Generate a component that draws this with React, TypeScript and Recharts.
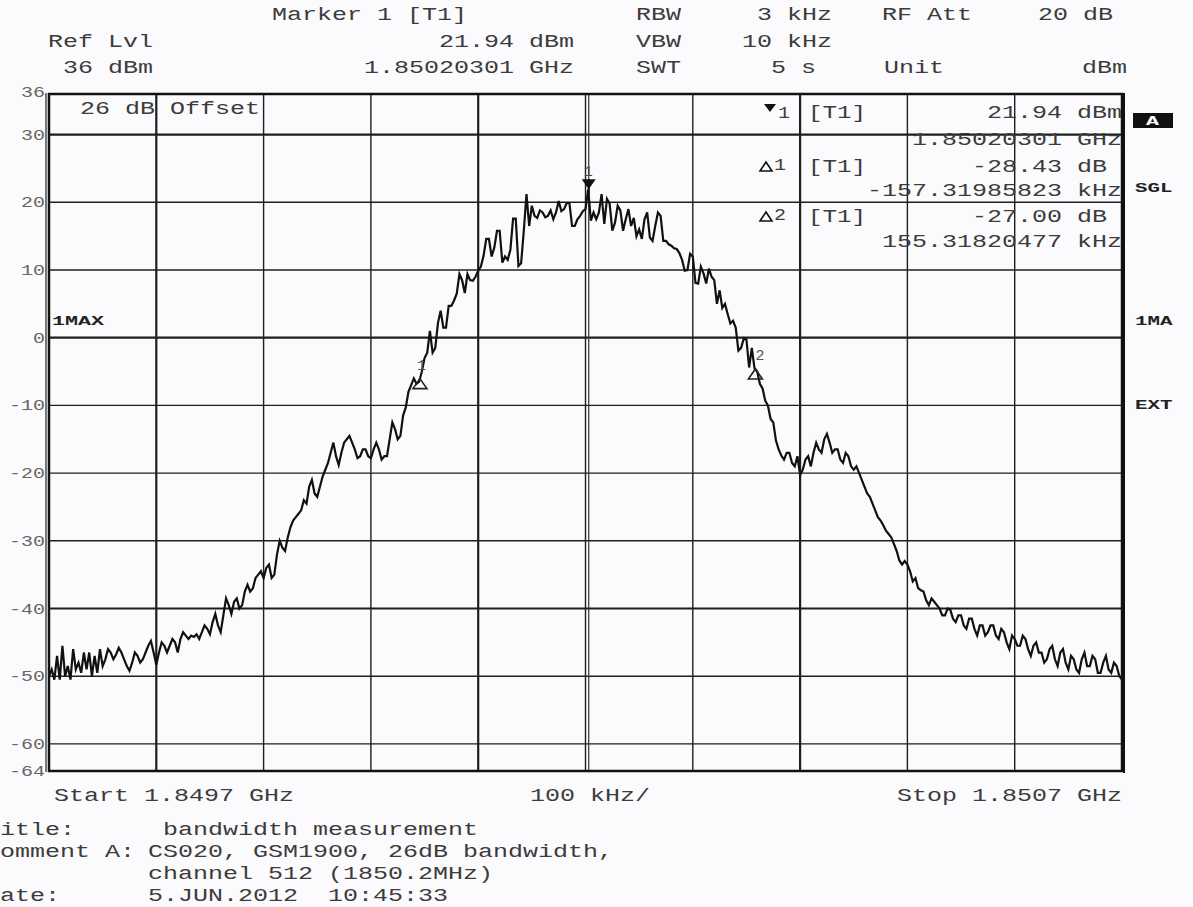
import { LineChart, Line, XAxis, YAxis, ReferenceLine, ReferenceDot } from "recharts";

// sweep: 1.8497 GHz .. 1.8507 GHz, one point every 2.5 kHz (20 per row = 50 kHz)
const sweepStepKHz = 2.5;
const levelsDbm = [
  -50, -49, -50.5, -47, -50.5, -45.5, -50, -48.5, -50.5, -46, -49, -48, -49.5, -46.5, -49, -46.5, -50, -47, -49.5, -46,
  -48.5, -47.5, -46, -46.5, -47.5, -46.8, -45.8, -46.5, -47.5, -48.5, -49.2, -48, -46.5, -47, -48, -47.5, -46.5, -45.5, -44.8, -46.5,
  -48.3, -46.5, -45, -45.5, -46.5, -45.5, -44.5, -45, -46.5, -44.5, -43.5, -44, -44.5, -44, -44.2, -43.8, -44.5, -43.5, -42.5, -43,
  -43.8, -42, -40.8, -42.5, -43.5, -41, -38.5, -39.5, -40.8, -39, -38.5, -40, -39.5, -37.5, -36.5, -37.5, -37, -35.5, -35, -34.5,
  -35.5, -34, -33.5, -35.5, -35, -32, -30, -31, -31.5, -29.5, -28, -27, -26.5, -26, -25.5, -24, -24.5, -22, -21, -23,
  -23.5, -22, -20.5, -19.5, -18.5, -17, -15.5, -17.5, -18.8, -17, -15.5, -15, -14.5, -15.5, -16.5, -17.8, -17.5, -16.5, -16.5, -17.5,
  -17.8, -16.5, -15.5, -16.5, -18, -17.5, -17.5, -15, -12.5, -13.5, -15, -14.5, -11.5, -10.3, -8, -7, -6, -6.8, -6.5, -5,
  -3, -2.2, 1, -2.2, -1.5, 2.2, 4, 1.5, 1.5, 4.7, 4.7, 5.5, 6.5, 9.4, 8.5, 6.6, 9.4, 8.5, 8.4, 9,
  9.9, 10.5, 12.1, 14.6, 14.6, 12, 13.3, 15.8, 15.8, 11.1, 12, 11.5, 13, 17.6, 17.6, 10.6, 11, 15.8, 21.2, 16.5,
  19.5, 18, 17.7, 18.8, 18.5, 17.8, 18, 18.8, 17.5, 18.5, 20.2, 18.7, 19, 19.9, 19.9, 16.5, 16.5, 17.5, 18, 18.7,
  19, 21.9, 17.3, 18.5, 17.5, 18.5, 21.2, 16.8, 20.5, 19.8, 15.8, 17, 19.5, 18.8, 15.8, 17.5, 19, 16.5, 17.7, 15,
  16, 14.6, 17.5, 18.5, 14.8, 14.3, 16.5, 18.5, 18, 14.3, 14.3, 13.8, 13.6, 13.2, 13.1, 12.5, 11.5, 9.9, 10, 12.4,
  12, 8.1, 8, 10.5, 9.5, 8, 10.2, 9, 8.5, 5, 7, 4.4, 5, 3.5, 2.1, 2.5, 1.5, -1.9, -1.5, -0.1,
  -0.3, -4.4, -1.5, -4.5, -5, -6.8, -7.5, -9.3, -10, -12, -12.5, -15.2, -16.5, -17.4, -18, -17, -17, -18.5, -19, -17.5,
  -20.3, -19.5, -18, -17.5, -19, -17, -15.5, -16.5, -17, -15, -14.2, -15.5, -17, -16.5, -16.5, -18, -18.5, -17, -17.5, -19,
  -19.5, -19, -20, -21, -22, -23, -23.5, -24.5, -25.5, -26.5, -27, -27.7, -28.5, -29, -29.5, -30.5, -31.5, -32.9, -33.5, -33,
  -33.5, -34.5, -36, -35.5, -37, -37.3, -37.5, -38.8, -39.5, -38.5, -39, -39.5, -40, -41, -41, -40, -40.2, -41.5, -42, -41,
  -41, -42.5, -43, -41.5, -41.5, -43, -44, -42.5, -42.5, -44, -43.5, -42.5, -42.5, -44, -44.5, -43, -43.5, -45, -46, -44,
  -44.5, -45.5, -45.5, -44, -44.5, -46, -47, -45.5, -45, -46.5, -46.5, -48, -47.5, -46, -45.5, -47.5, -48.5, -46.5, -46, -48,
  -49, -47, -47.5, -49, -49.5, -47.5, -46.5, -48.5, -48.5, -47, -47.5, -49.5, -49.5, -48, -47, -49, -49.5, -48, -48.5, -50,
  -50.5,
];

const yTicks = [36, 30, 20, 10, 0, -10, -20, -30, -40, -50, -60, -64];
const yGrid = [30, 20, 10, 0, -10, -20, -30, -40, -50, -60];
const yGridThick = [30, 0, -40];
const xGrid = [100, 200, 300, 400, 500, 600, 700, 800, 900];
const xGridThick = [100, 400, 700];

// markers: offset from start (kHz), level (dBm)
const marker1 = { f: 503.01, lvl: 21.94 };
const delta1 = { f: 345.69, lvl: -6.49 };
const delta2 = { f: 658.33, lvl: -5.06 };

const data = levelsDbm.map((lvl, i) => ({ f: i * sweepStepKHz, lvl }));

const FONT = '"Liberation Mono", "DejaVu Sans Mono", monospace';
const INK = "#3c3c3c";

function T({ x, y, s, size = 19, cw = 15, end = false, fill = INK, bold = false }: any) {
  const len = s.length * cw;
  return (
    <text
      x={end ? x - len : x}
      y={y}
      fontSize={size}
      fontFamily={FONT}
      fontWeight={bold ? 700 : 400}
      textLength={len}
      lengthAdjust="spacingAndGlyphs"
      fill={fill}
      style={{ whiteSpace: "pre" }}
    >
      {s}
    </text>
  );
}

function YTick({ x, y, payload }: any) {
  const s = String(payload.value);
  const dy = payload.value === 36 ? 3 : 5;
  return (
    <text
      x={x - 12 * s.length}
      y={y + dy}
      fontSize={14}
      fontFamily={FONT}
      textLength={12 * s.length}
      lengthAdjust="spacingAndGlyphs"
      fill="#666"
    >
      {s}
    </text>
  );
}

const downTri = (label: string) => (p: any) => (
  <g>
    <path d={`M${p.cx - 7},${p.cy - 10} L${p.cx + 7},${p.cy - 10} L${p.cx},${p.cy} Z`} fill="#111" />
    <line x1={p.cx} y1={p.cy - 10} x2={p.cx} y2={p.cy + 6} stroke="#111" strokeWidth={2} />
    <text x={p.cx - 5} y={p.cy - 13} fontSize={15} fontFamily={FONT} fill="#444">{label}</text>
  </g>
);

const upTri = (label: string, lx: number) => (p: any) => (
  <g>
    <path
      d={`M${p.cx},${p.cy - 3} L${p.cx + 7},${p.cy + 7} L${p.cx - 7},${p.cy + 7} Z`}
      fill="none"
      stroke="#222"
      strokeWidth={1.6}
    />
    <text x={p.cx + lx} y={p.cy - 12} fontSize={15} fontFamily={FONT} fill="#555">{label}</text>
  </g>
);

export default function App() {
  return (
    <div
      style={{
        position: "absolute",
        left: 0,
        top: 0,
        width: 1193,
        height: 907,
        background: "#fbfafd",
        overflow: "hidden",
      }}
    >
      <LineChart
        width={1193}
        height={907}
        data={data}
        margin={{ top: 94, right: 71, bottom: 136, left: 0 }}
      >
        <XAxis dataKey="f" type="number" domain={[0, 1000]} hide />
        <YAxis
          type="number"
          domain={[-64, 36]}
          ticks={yTicks}
          interval={0}
          width={49}
          axisLine={false}
          tickLine={false}
          tickSize={0}
          tickMargin={4}
          tick={<YTick />}
        />
        {yGrid.map((v) => (
          <ReferenceLine
            key={"h" + v}
            y={v}
            stroke="#1e1e1e"
            strokeWidth={yGridThick.includes(v) ? 2.2 : 1.4}
          />
        ))}
        {xGrid.map((v) => (
          <ReferenceLine
            key={"v" + v}
            x={v}
            stroke="#1e1e1e"
            strokeWidth={xGridThick.includes(v) ? 2.2 : 1.4}
          />
        ))}
        <ReferenceLine x={marker1.f} stroke="#333" strokeWidth={1.2} />
        <Line
          type="linear"
          dataKey="lvl"
          stroke="#111"
          strokeWidth={2.2}
          dot={false}
          isAnimationActive={false}
        />
        <ReferenceDot x={marker1.f} y={marker1.lvl} r={0} shape={downTri("1")} />
        <ReferenceDot x={delta1.f} y={delta1.lvl} r={0} shape={upTri("1", -3)} />
        <ReferenceDot x={delta2.f} y={delta2.lvl} r={0} shape={upTri("2", 0)} />
      </LineChart>

      <svg
        width={1193}
        height={907}
        style={{ position: "absolute", left: 0, top: 0, pointerEvents: "none" }}
      >
        {/* frame */}
        <rect x={49} y={94} width={1073} height={677} fill="none" stroke="#111" strokeWidth={2.5} />
        <line x1={46} y1={93} x2={46} y2={772} stroke="#333" strokeWidth={1.3} />
        <line x1={1124} y1={93} x2={1124} y2={773} stroke="#111" strokeWidth={2} />

        {/* header */}
        <T x={272} y={20} s="Marker 1 [T1]" />
        <T x={636} y={20} s="RBW" />
        <T x={757} y={20} s="3 kHz" />
        <T x={882} y={20} s="RF Att" />
        <T x={1038} y={20} s="20 dB" />
        <T x={48} y={47} s="Ref Lvl" />
        <T x={574} y={47} s="21.94 dBm" end />
        <T x={636} y={47} s="VBW" />
        <T x={742} y={47} s="10 kHz" />
        <T x={63} y={73} s="36 dBm" />
        <T x={574} y={73} s="1.85020301 GHz" end />
        <T x={636} y={73} s="SWT" />
        <T x={771} y={73} s="5 s" />
        <T x={884} y={73} s="Unit" />
        <T x={1127} y={73} s="dBm" end />

        {/* in-plot annotations */}
        <T x={80} y={114} s="26 dB" />
        <T x={170} y={114} s="Offset" />
        <T x={52} y={325} s="1MAX" size={12} cw={13} bold fill="#222" />

        {/* marker table */}
        <path d="M764,104 L776,104 L770,112 Z" fill="#111" />
        <T x={778} y={118} s="1" size={16} cw={12} />
        <T x={808} y={118} s="[T1]" cw={14.5} />
        <T x={1122} y={118} s="21.94 dBm" end />
        <T x={1122} y={145} s="1.85020301 GHz" end />
        <path d="M760,171 L772,171 L766,162 Z" fill="none" stroke="#111" strokeWidth={1.6} />
        <T x={774} y={170} s="1" size={16} cw={12} />
        <T x={808} y={172} s="[T1]" cw={14.5} />
        <T x={1122} y={172} s="-28.43 dB " end />
        <T x={1122} y={196} s="-157.31985823 kHz" end />
        <path d="M760,221 L772,221 L766,212 Z" fill="none" stroke="#111" strokeWidth={1.6} />
        <T x={774} y={220} s="2" size={16} cw={12} />
        <T x={808} y={222} s="[T1]" cw={14.5} />
        <T x={1122} y={222} s="-27.00 dB " end />
        <T x={1122} y={247} s="155.31820477 kHz" end />

        {/* right side indicators */}
        <rect x={1133} y={113} width={40} height={15} fill="#111" />
        <T x={1146} y={125} s="A" size={12} cw={13} bold fill="#fff" />
        <T x={1135} y={192} s="SGL" size={12} cw={12.5} bold fill="#222" />
        <T x={1135} y={325} s="1MA" size={12} cw={12.5} bold fill="#222" />
        <T x={1135} y={409} s="EXT" size={12} cw={12.5} bold fill="#222" />

        {/* x axis texts */}
        <T x={54} y={801} s="Start 1.8497 GHz" />
        <T x={530} y={801} s="100 kHz/" />
        <T x={1122} y={801} s="Stop 1.8507 GHz" end />

        {/* footer (left edge of the screenshot is cropped) */}
        <T x={0} y={835} s="itle:" />
        <T x={163} y={835} s="bandwidth measurement" />
        <T x={0} y={857} s="omment A:" />
        <T x={148} y={857} s="CS020, GSM1900, 26dB bandwidth," />
        <T x={148} y={879} s="channel 512 (1850.2MHz)" />
        <T x={0} y={901} s="ate:" />
        <T x={148} y={901} s="5.JUN.2012  10:45:33" />
      </svg>
    </div>
  );
}
